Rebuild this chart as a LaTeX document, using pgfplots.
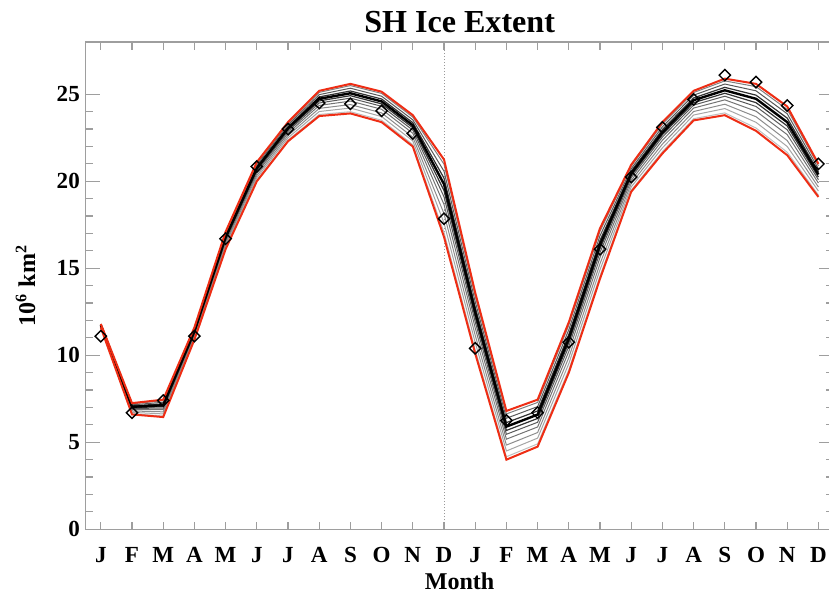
\documentclass[border=0pt]{standalone}
\usepackage{pgfplots}
\pgfplotsset{compat=1.18}
\usepackage{pgfplotstable}
\usepackage{fontspec}
\setmainfont{Liberation Serif}
\definecolor{envred}{RGB}{238,45,20}
\pgfplotstableread{
x L U m1 m2 m3 m4 m5 m6 m7 m8 m9 m10 obs
0 11.6 11.8 11.61 11.64 11.66 11.68 11.70 11.72 11.74 11.75 11.77 11.79 11.1
1 6.6 7.25 6.64 6.72 6.80 6.87 6.94 6.99 7.04 7.09 7.15 7.21 6.7
2 6.45 7.45 6.51 6.63 6.75 6.87 6.97 7.05 7.13 7.21 7.30 7.39 7.4
3 10.9 11.6 10.94 11.03 11.11 11.19 11.26 11.32 11.38 11.43 11.50 11.56 11.1
4 16.1 17.1 16.16 16.28 16.40 16.52 16.62 16.70 16.78 16.86 16.95 17.04 16.7
5 20.0 21.1 20.07 20.20 20.33 20.46 20.57 20.66 20.75 20.84 20.94 21.03 20.85
6 22.3 23.4 22.37 22.50 22.63 22.76 22.87 22.96 23.05 23.14 23.24 23.33 23.0
7 23.75 25.2 23.84 24.01 24.19 24.36 24.50 24.62 24.74 24.85 24.98 25.11 24.5
8 23.9 25.6 24.00 24.21 24.41 24.61 24.78 24.92 25.06 25.19 25.35 25.50 24.45
9 23.4 25.15 23.51 23.72 23.93 24.14 24.31 24.45 24.59 24.73 24.89 25.05 24.05
10 22.0 23.8 22.11 22.32 22.54 22.76 22.94 23.08 23.22 23.37 23.53 23.69 22.75
11 16.8 21.25 17.07 17.60 18.14 18.67 19.11 19.47 19.83 20.18 20.58 20.98 17.85
12 10.1 13.6 10.31 10.73 11.15 11.57 11.92 12.20 12.48 12.76 13.08 13.39 10.4
13 4.0 6.8 4.17 4.50 4.84 5.18 5.46 5.68 5.90 6.13 6.38 6.63 6.25
14 4.75 7.45 4.91 5.24 5.56 5.88 6.15 6.37 6.59 6.80 7.05 7.29 6.7
15 9.0 11.9 9.17 9.52 9.87 10.22 10.51 10.74 10.97 11.20 11.47 11.73 10.75
16 14.4 17.3 14.57 14.92 15.27 15.62 15.91 16.14 16.37 16.60 16.87 17.13 16.1
17 19.4 20.95 19.49 19.68 19.87 20.05 20.21 20.33 20.45 20.58 20.72 20.86 20.25
18 21.6 23.4 21.71 21.92 22.14 22.36 22.54 22.68 22.82 22.97 23.13 23.29 23.1
19 23.5 25.2 23.60 23.81 24.01 24.21 24.38 24.52 24.66 24.79 24.95 25.10 24.7
20 23.8 25.9 23.93 24.18 24.43 24.68 24.89 25.06 25.23 25.40 25.59 25.77 26.1
21 22.9 25.6 23.06 23.39 23.71 24.03 24.30 24.52 24.74 24.95 25.20 25.44 25.7
22 21.5 24.3 21.67 22.00 22.34 22.68 22.96 23.18 23.40 23.63 23.88 24.13 24.35
23 19.1 21.0 19.21 19.44 19.67 19.90 20.09 20.24 20.39 20.54 20.72 20.89 21.0
}\datatable
\begin{document}
\begin{tikzpicture}
\begin{axis}[
  name=ax,
  scale only axis,
  width=373.5pt, height=243pt,
  xmin=-0.5, xmax=23.5, ymin=0, ymax=28,
  xtick={0,...,23},
  xticklabels={J,F,M,A,M,J,J,A,S,O,N,D,J,F,M,A,M,J,J,A,S,O,N,D},
  minor xtick={0,...,23},
  major x tick style={draw=none},
  ytick={0,5,10,15,20,25},
  minor y tick num=4,
  major tick length=7.5pt,
  minor tick length=3.8pt,
  tick align=inside,
  axis line style={black!38, line width=0.65pt},
  every tick/.style={black!38, line width=0.6pt},
  /pgf/number format/assume math mode=true,
  tick label style={font=\bfseries\fontsize{11.5}{12}\selectfont},
  xticklabel style={anchor=base, yshift=-16.5pt, inner sep=0pt},
  yticklabel style={anchor=east, inner sep=0pt, xshift=-2.5pt},
  xlabel={Month},
  every axis x label/.style={at={(axis description cs:0.5,0)}, anchor=base, yshift=-30pt, font=\bfseries\fontsize{12}{14}\selectfont},
  ylabel={10\textsuperscript{6} km\textsuperscript{2}},
  every axis y label/.style={at={(axis description cs:-0.0669,0.5)}, rotate=90, anchor=base, font=\bfseries\fontsize{12}{14}\selectfont},
  clip=false,
]
\draw[black!40, densely dotted, line width=0.5pt] (axis cs:11,0) -- (axis cs:11,28);
\addplot[black!25, line width=0.5pt] table[x=x,y=m1] {\datatable};
\addplot[black!35, line width=0.5pt] table[x=x,y=m2] {\datatable};
\addplot[black!45, line width=0.5pt] table[x=x,y=m3] {\datatable};
\addplot[black!55, line width=0.5pt] table[x=x,y=m4] {\datatable};
\addplot[black!65, line width=0.5pt] table[x=x,y=m5] {\datatable};
\addplot[black!80, line width=0.6pt] table[x=x,y=m6] {\datatable};
\addplot[black!80, line width=0.6pt] table[x=x,y=m8] {\datatable};
\addplot[black!65, line width=0.5pt] table[x=x,y=m9] {\datatable};
\addplot[black!50, line width=0.5pt] table[x=x,y=m10] {\datatable};
\addplot[black, line width=1.2pt] table[x=x,y=m7] {\datatable};
\addplot[envred, line width=1pt] table[x=x,y=L] {\datatable};
\addplot[envred, line width=1pt] table[x=x,y=U] {\datatable};
\addplot[only marks, mark=square, mark size=2pt, mark options={black, line width=0.7pt, rotate=45, fill=none}] table[x=x,y=obs] {\datatable};
\end{axis}
\node[anchor=base, font=\bfseries\fontsize{16}{18}\selectfont, inner sep=0pt] at ([yshift=5pt]ax.north) {SH Ice Extent};
\pgfresetboundingbox
\path[use as bounding box] ([shift={(-42.5pt,-32.5pt)}]ax.south west) rectangle ([shift={(-2.5pt,21pt)}]ax.north east);
\end{tikzpicture}
\end{document}
